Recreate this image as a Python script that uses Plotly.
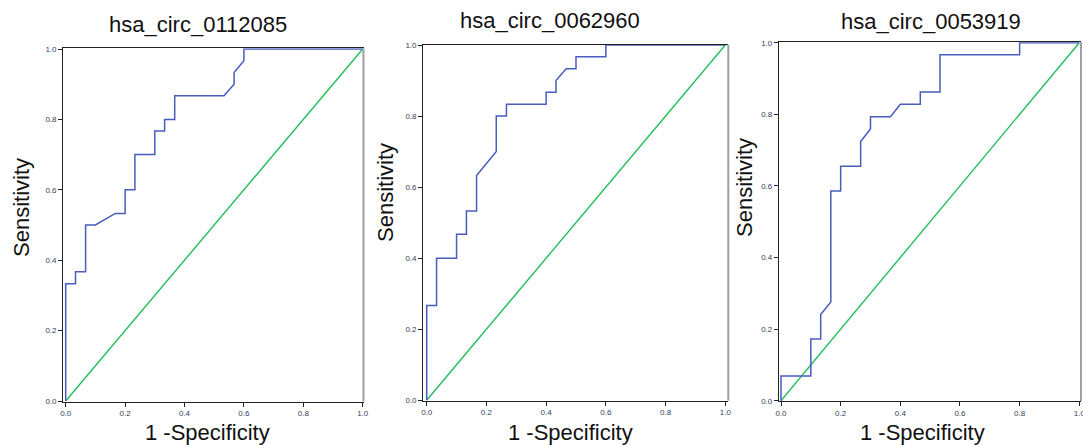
import plotly.graph_objects as go

W, H = 1083, 445

titles = ["hsa_circ_0112085", "hsa_circ_0062960", "hsa_circ_0053919"]

p1_fpr = [0.0, 0.0, 0.033, 0.033, 0.067, 0.067, 0.1, 0.167, 0.2, 0.2, 0.233, 0.233,
          0.3, 0.3, 0.333, 0.333, 0.367, 0.367, 0.533, 0.567, 0.567, 0.6, 0.6, 1.0]
p1_tpr = [0.0, 0.333, 0.333, 0.367, 0.367, 0.5, 0.5, 0.533, 0.533, 0.6, 0.6, 0.7,
          0.7, 0.767, 0.767, 0.8, 0.8, 0.867, 0.867, 0.9, 0.933, 0.967, 1.0, 1.0]

p2_fpr = [0.0, 0.0, 0.033, 0.033, 0.1, 0.1, 0.133, 0.133, 0.167, 0.167, 0.233, 0.233,
          0.267, 0.267, 0.4, 0.4, 0.433, 0.433, 0.467, 0.5, 0.5, 0.6, 0.6, 1.0]
p2_tpr = [0.0, 0.267, 0.267, 0.4, 0.4, 0.467, 0.467, 0.533, 0.533, 0.633, 0.7, 0.8,
          0.8, 0.833, 0.833, 0.867, 0.867, 0.9, 0.933, 0.933, 0.967, 0.967, 1.0, 1.0]

p3_fpr = [0.0, 0.0, 0.1, 0.1, 0.133, 0.133, 0.167, 0.167, 0.2, 0.2, 0.267, 0.267,
          0.3, 0.3, 0.367, 0.4, 0.467, 0.467, 0.533, 0.533, 0.8, 0.8, 1.0]
p3_tpr = [0.0, 0.069, 0.069, 0.172, 0.172, 0.241, 0.276, 0.586, 0.586, 0.655, 0.655, 0.724,
          0.759, 0.793, 0.793, 0.828, 0.828, 0.862, 0.862, 0.966, 0.966, 1.0, 1.0]

ref_line = [0.0, 1.0]
tick_vals = [0.0, 0.2, 0.4, 0.6, 0.8, 1.0]
tick_text = ["0.0", "0.2", "0.4", "0.6", "0.8", "1.0"]

curves = [(p1_fpr, p1_tpr), (p2_fpr, p2_tpr), (p3_fpr, p3_tpr)]

# pixel geometry: (x at 0, x at 1, frame L, frame R, y at 0, y at 1, frame T, frame B)
geom = [
    (65.7, 362.7, 63.3, 363.5, 401.0, 49.0, 48.3, 401.5),
    (426.7, 725.3, 423.3, 728.3, 400.3, 45.0, 44.7, 400.7),
    (781.0, 1079.3, 779.0, 1081.0, 400.7, 42.7, 42.3, 401.0),
]
title_pos = [(198, 24), (550, 21), (931, 22)]
xlab_pos = [(207, 432), (570, 432), (922, 432)]
ylab_pos = [(21, 208), (385, 193), (745, 188)]

BLUE = "rgb(72,92,190)"
GREEN = "rgb(34,190,90)"
FONT = "Liberation Sans, Arial, sans-serif"

fig = go.Figure()
layout = dict(
    width=W, height=H, margin=dict(l=0, r=0, t=0, b=0, autoexpand=False),
    paper_bgcolor="white", plot_bgcolor="white", showlegend=False,
)
annotations = []
shapes = []

for i, ((fx, ty), g) in enumerate(zip(curves, geom)):
    n = "" if i == 0 else str(i + 1)
    x0, x1, L, R, y0, y1, T, B = g
    xr = [(L - x0) / (x1 - x0), (R - x0) / (x1 - x0)]
    yr = [(y0 - B) / (y0 - y1), (y0 - T) / (y0 - y1)]
    layout["xaxis" + n] = dict(
        domain=[L / W, R / W], range=xr, anchor="y" + n, automargin=False,
        tickvals=tick_vals, ticktext=tick_text, ticks="outside", ticklen=4,
        tickcolor="#222", showgrid=False, zeroline=False, ticklabeloverflow="allow",
        showline=True, linecolor="#222", linewidth=1.3, mirror=True,
        tickfont=dict(size=8, color="#33405a", family=FONT),
    )
    layout["yaxis" + n] = dict(
        domain=[(H - B) / H, (H - T) / H], range=yr, anchor="x" + n, automargin=False,
        tickvals=tick_vals, ticktext=tick_text, ticks="outside", ticklen=4,
        tickcolor="#222", showgrid=False, zeroline=False, ticklabeloverflow="allow",
        showline=True, linecolor="#222", linewidth=1.3, mirror=False,
        tickfont=dict(size=8, color="#33405a", family=FONT),
    )
    fig.add_trace(go.Scatter(x=ref_line, y=ref_line, mode="lines",
                             line=dict(color=GREEN, width=1.4),
                             xaxis="x" + n, yaxis="y" + n, hoverinfo="skip"))
    fig.add_trace(go.Scatter(x=fx, y=ty, mode="lines",
                             line=dict(color=BLUE, width=1.5),
                             xaxis="x" + n, yaxis="y" + n))
    shapes.append(dict(type="line", xref="x" + n + " domain", yref="y" + n + " domain",
                       x0=1, x1=1, y0=0, y1=1, line=dict(color="#a0a0a0", width=2)))
    tx, tyy = title_pos[i]
    annotations.append(dict(text=titles[i], x=tx / W, y=1 - tyy / H, xref="paper", yref="paper",
                            showarrow=False, xanchor="center", yanchor="middle",
                            font=dict(size=22, color="#111", family=FONT)))
    lx, ly = xlab_pos[i]
    annotations.append(dict(text="1 -Specificity", x=lx / W, y=1 - ly / H, xref="paper", yref="paper",
                            showarrow=False, xanchor="center", yanchor="middle",
                            font=dict(size=22, color="#111", family=FONT)))
    sx, sy = ylab_pos[i]
    annotations.append(dict(text="Sensitivity", x=sx / W, y=1 - sy / H, xref="paper", yref="paper",
                            showarrow=False, xanchor="center", yanchor="middle", textangle=-90,
                            font=dict(size=22, color="#111", family=FONT)))

layout["annotations"] = annotations
layout["shapes"] = shapes
fig.update_layout(**layout)
fig.write_html("out.html", config={"displayModeBar": False},
               post_script="document.body.style.margin='0';document.body.style.padding='0';")
